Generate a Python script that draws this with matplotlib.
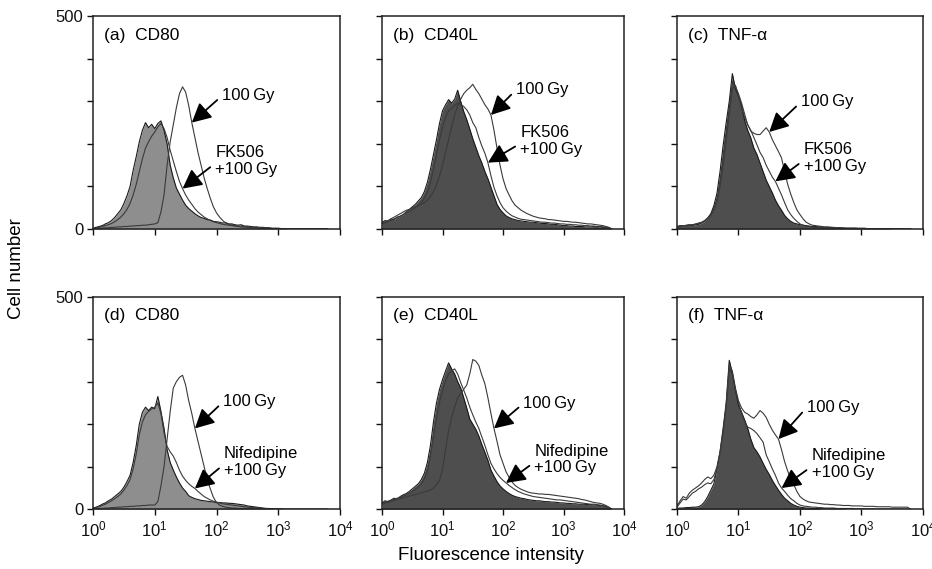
import matplotlib
matplotlib.use("Agg")
import matplotlib.pyplot as plt
import numpy as np

plt.rcParams['font.family'] = ['Liberation Sans', 'DejaVu Sans']
plt.rcParams['mathtext.fontset'] = 'custom'
plt.rcParams['mathtext.rm'] = 'Liberation Sans'
plt.rcParams['mathtext.it'] = 'Liberation Sans:italic'
plt.rcParams['mathtext.bf'] = 'Liberation Sans:bold'

# histogram channels, log10(fluorescence) from 0 to 3.8 in 0.05 steps (77 bins)
log_bins = np.round(np.arange(0, 3.801, 0.05), 2)

# cell counts per channel
# rows: 10^0-10^1, 10^1-10^2, 10^2-10^3, 10^3-10^3.8
a_ctrl = [2, 4, 6, 8, 12, 15, 20, 27, 36, 45, 60, 78, 100, 138, 170, 205, 232, 250, 238, 246,
          236, 248, 254, 232, 200, 150, 120, 96, 82, 68, 56, 48, 42, 36, 31, 27, 25, 22, 21, 18,
          17, 16, 14, 15, 12, 12, 10, 9, 10, 7, 7, 6, 5, 5, 4, 4, 3, 3, 2, 2,
          2, 1, 1, 0, 0, 0, 0, 0, 0, 0, 0, 0, 0, 0, 0, 0, 0]
a_100gy = [1, 1, 2, 2, 3, 3, 4, 4, 5, 5, 6, 6, 7, 7, 8, 8, 9, 9, 10, 11,
           12, 15, 40, 80, 150, 205, 245, 285, 318, 334, 322, 290, 250, 215, 180, 150, 120, 95, 72, 52,
           38, 28, 20, 14, 11, 9, 8, 7, 6, 5, 5, 4, 4, 3, 3, 2, 2, 2, 1, 1,
           1, 1, 0, 0, 0, 0, 0, 0, 0, 0, 0, 0, 0, 0, 0, 0, 0]
a_fk506 = [1, 2, 4, 6, 8, 10, 13, 17, 22, 28, 36, 46, 60, 80, 105, 135, 165, 190, 205, 218,
           228, 240, 248, 236, 215, 185, 160, 135, 112, 95, 80, 68, 58, 48, 40, 34, 28, 24, 20, 17,
           15, 13, 11, 10, 9, 8, 7, 6, 5, 5, 4, 4, 3, 3, 2, 2, 2, 1, 1, 1,
           0, 0, 0, 0, 0, 0, 0, 0, 0, 0, 0, 0, 0, 0, 0, 0, 0]

b_ctrl = [15, 20, 18, 24, 22, 28, 30, 34, 40, 46, 52, 58, 66, 74, 88, 110, 140, 175, 210, 248,
          278, 292, 304, 296, 305, 326, 300, 276, 257, 235, 212, 192, 172, 155, 135, 118, 98, 78, 58, 46,
          38, 31, 27, 24, 22, 20, 19, 18, 17, 16, 16, 15, 14, 13, 13, 12, 11, 11, 10, 9,
          8, 8, 7, 7, 6, 6, 6, 5, 5, 5, 6, 4, 5, 4, 3, 2, 0]
b_100gy = [12, 16, 20, 24, 28, 32, 36, 40, 44, 46, 50, 52, 55, 58, 62, 68, 76, 88, 104, 125,
           150, 180, 210, 240, 268, 290, 305, 318, 326, 332, 340, 328, 318, 305, 292, 282, 268, 232, 190, 150,
           118, 95, 80, 66, 56, 50, 44, 40, 36, 33, 30, 28, 26, 25, 24, 22, 22, 21, 20, 19,
           18, 18, 17, 16, 16, 15, 14, 13, 12, 12, 11, 10, 9, 8, 6, 4, 0]
b_fk506 = [12, 15, 18, 20, 24, 27, 30, 34, 38, 42, 46, 50, 56, 62, 72, 88, 110, 140, 175, 210,
           240, 262, 278, 284, 290, 296, 292, 288, 280, 268, 250, 238, 215, 195, 178, 156, 125, 98, 78, 62,
           50, 42, 36, 31, 28, 25, 23, 22, 21, 20, 19, 18, 17, 16, 16, 15, 14, 14, 13, 12,
           12, 11, 11, 10, 10, 9, 9, 8, 8, 7, 7, 6, 6, 5, 4, 3, 0]

c_ctrl = [6, 8, 7, 9, 10, 8, 10, 11, 14, 18, 26, 36, 55, 84, 135, 196, 250, 300, 365, 330,
          312, 290, 255, 232, 214, 190, 175, 155, 135, 115, 100, 85, 68, 55, 44, 32, 24, 18, 14, 12,
          10, 9, 8, 7, 6, 6, 5, 5, 4, 4, 4, 3, 3, 3, 2, 2, 2, 2, 2, 1,
          1, 1, 1, 1, 1, 1, 1, 1, 1, 1, 0, 0, 0, 0, 0, 0, 0]
c_100gy = [4, 6, 8, 7, 9, 10, 12, 14, 16, 20, 26, 34, 48, 70, 110, 165, 225, 285, 345, 335,
           318, 296, 270, 245, 230, 225, 222, 222, 230, 238, 228, 210, 196, 182, 167, 135, 105, 82, 62, 45,
           34, 24, 16, 12, 9, 8, 7, 6, 5, 5, 4, 4, 3, 3, 3, 2, 2, 2, 2, 2,
           2, 2, 1, 1, 1, 1, 1, 1, 1, 1, 1, 1, 1, 0, 0, 0, 0]
c_fk506 = [4, 5, 7, 8, 9, 10, 11, 13, 15, 18, 24, 32, 45, 65, 100, 150, 210, 270, 330, 338,
           312, 285, 262, 245, 232, 215, 198, 180, 168, 150, 136, 122, 112, 96, 80, 62, 45, 34, 25, 18,
           12, 9, 7, 6, 5, 4, 4, 3, 3, 3, 2, 2, 2, 2, 1, 1, 1, 1, 1, 1,
           1, 1, 1, 1, 0, 0, 0, 0, 0, 0, 0, 0, 0, 0, 0, 0, 0]

d_ctrl = [3, 5, 8, 12, 15, 20, 24, 30, 36, 42, 52, 65, 80, 110, 150, 200, 228, 240, 232, 240,
          236, 265, 230, 190, 140, 110, 92, 76, 62, 50, 42, 32, 28, 25, 23, 21, 20, 19, 18, 17,
          16, 16, 15, 15, 14, 14, 13, 12, 11, 10, 8, 7, 6, 5, 4, 3, 2, 2, 1, 1,
          1, 1, 0, 0, 0, 0, 0, 0, 0, 0, 0, 0, 0, 0, 0, 0, 0]
d_100gy = [1, 1, 2, 2, 3, 3, 4, 4, 5, 5, 6, 6, 7, 7, 8, 8, 9, 9, 10, 10,
           10, 18, 55, 100, 165, 230, 285, 300, 310, 315, 292, 255, 225, 190, 160, 130, 100, 70, 48, 28,
           16, 10, 7, 5, 4, 3, 3, 2, 2, 2, 1, 1, 1, 1, 0, 0, 0, 0, 0, 0,
           0, 0, 0, 0, 0, 0, 0, 0, 0, 0, 0, 0, 0, 0, 0, 0, 0]
d_nif = [2, 4, 6, 9, 12, 16, 20, 25, 30, 36, 45, 56, 70, 95, 130, 175, 205, 222, 230, 236,
         240, 250, 225, 180, 148, 135, 125, 110, 92, 78, 68, 60, 54, 49, 42, 36, 30, 26, 22, 19,
         17, 15, 13, 12, 11, 10, 9, 8, 7, 6, 5, 4, 4, 3, 3, 2, 2, 1, 1, 1,
         1, 0, 0, 0, 0, 0, 0, 0, 0, 0, 0, 0, 0, 0, 0, 0, 0]

e_ctrl = [15, 20, 18, 22, 26, 24, 30, 34, 37, 42, 48, 54, 60, 70, 85, 110, 150, 205, 250, 282,
          305, 325, 344, 330, 318, 300, 285, 262, 238, 212, 200, 188, 172, 152, 134, 115, 92, 78, 65, 55,
          48, 42, 37, 33, 30, 28, 26, 25, 23, 22, 21, 20, 20, 19, 18, 18, 17, 17, 16, 15,
          15, 14, 14, 13, 13, 12, 12, 12, 11, 11, 10, 10, 9, 8, 6, 4, 0]
e_100gy = [12, 15, 16, 19, 21, 23, 25, 27, 29, 31, 33, 35, 37, 39, 41, 43, 45, 50, 58, 68,
           95, 140, 185, 215, 240, 262, 272, 282, 292, 318, 352, 348, 338, 315, 295, 262, 225, 190, 160, 128,
           108, 88, 75, 64, 56, 51, 47, 44, 41, 39, 38, 37, 36, 36, 35, 35, 34, 33, 32, 31,
           30, 29, 28, 27, 26, 25, 23, 22, 20, 18, 16, 15, 14, 12, 9, 5, 0]
e_nif = [13, 17, 19, 21, 24, 26, 28, 31, 34, 38, 42, 47, 53, 60, 72, 92, 125, 170, 215, 252,
         280, 302, 318, 325, 330, 318, 298, 280, 262, 240, 222, 205, 190, 170, 150, 128, 108, 95, 84, 75,
         68, 62, 56, 51, 46, 42, 39, 36, 34, 32, 30, 29, 28, 27, 26, 25, 24, 23, 22, 22,
         21, 20, 19, 18, 17, 16, 15, 14, 13, 12, 12, 11, 10, 9, 7, 4, 0]

f_ctrl = [2, 3, 3, 4, 4, 5, 5, 6, 10, 18, 30, 45, 60, 95, 135, 190, 250, 350, 320, 280,
          245, 228, 210, 190, 165, 145, 135, 123, 108, 94, 82, 68, 56, 45, 35, 26, 20, 14, 10, 7,
          5, 4, 3, 3, 2, 2, 2, 1, 1, 1, 1, 1, 1, 1, 1, 0, 0, 0, 0, 0,
          0, 0, 0, 0, 0, 0, 0, 0, 0, 0, 0, 0, 0, 0, 0, 0, 0]
f_100gy = [8, 20, 30, 26, 38, 45, 50, 55, 62, 70, 76, 72, 80, 100, 135, 185, 245, 340, 325, 285,
           255, 238, 228, 224, 218, 214, 222, 232, 226, 216, 200, 186, 175, 165, 140, 112, 90, 72, 58, 42,
           30, 24, 20, 17, 16, 15, 14, 13, 12, 12, 11, 11, 10, 10, 9, 9, 9, 8, 8, 8,
           8, 7, 7, 7, 7, 6, 6, 6, 6, 6, 5, 5, 5, 5, 5, 5, 0]
f_nif = [5, 15, 24, 22, 30, 38, 42, 48, 52, 58, 62, 60, 70, 95, 130, 180, 240, 330, 318, 280,
         250, 225, 205, 193, 190, 185, 178, 168, 158, 128, 112, 95, 80, 62, 50, 42, 33, 25, 20, 14,
         10, 8, 7, 6, 5, 5, 4, 4, 3, 3, 3, 3, 2, 2, 2, 2, 2, 2, 1, 1,
         1, 1, 1, 1, 1, 0, 0, 0, 0, 0, 0, 0, 0, 0, 0, 0, 0]

panel_titles = ["(a)  CD80", "(b)  CD40L", "(c)  TNF-\u03b1",
                "(d)  CD80", "(e)  CD40L", "(f)  TNF-\u03b1"]
dose_label = "100\u2009Gy"
fk_label = "FK506\n+100\u2009Gy"
nif_label = "Nifedipine\n+100\u2009Gy"
y_ticks = [0, 100, 200, 300, 400, 500]
x_ticks = [1, 10, 100, 1000, 10000]

LIGHT = "#8e8e8e"
DARK = "#4e4e4e"

panels = [
    (a_ctrl, a_100gy, a_fk506, fk_label, LIGHT),
    (b_ctrl, b_100gy, b_fk506, fk_label, DARK),
    (c_ctrl, c_100gy, c_fk506, fk_label, DARK),
    (d_ctrl, d_100gy, d_nif, nif_label, LIGHT),
    (e_ctrl, e_100gy, e_nif, nif_label, DARK),
    (f_ctrl, f_100gy, f_nif, nif_label, DARK),
]

# arrow tips (log10 channel) and text offsets in points: (100 Gy arrow, treated arrow)
arrows = [
    ((1.60, 21.8, 19.4), (1.45, 23.5, 20.0)),
    ((1.80, 18.0, 18.0), (1.75, 23.3, 15.6)),
    ((1.50, 22.8, 21.6), (1.60, 20.4, 17.0)),
    ((1.65, 20.4, 19.2), (1.65, 20.9, 19.2)),
    ((1.85, 21.2, 18.0), (2.05, 20.4, 16.8)),
    ((1.65, 20.4, 22.8), (1.70, 21.6, 17.3)),
]

# axes boxes in figure fractions
col_left = [0.0998, 0.4099, 0.7264]
col_width = [0.2650, 0.2597, 0.2639]
row_bottom = [0.5975, 0.1049]
row_height = 0.374

fig = plt.figure(figsize=(9.32, 5.69), dpi=100)
x = 10 ** log_bins

for i, (ctrl, dose, treated, treated_label, fill_col) in enumerate(panels):
    row, col = divmod(i, 3)
    ax = fig.add_axes([col_left[col], row_bottom[row], col_width[col], row_height])

    ax.fill_between(x, 0, ctrl, color=fill_col, lw=0, zorder=1)
    ax.plot(x, ctrl, color="#1a1a1a", lw=0.8, zorder=2)
    ax.plot(x, dose, color="#3a3a3a", lw=0.8, zorder=2)
    ax.plot(x, treated, color="#3a3a3a", lw=0.8, zorder=2)

    ax.set_xscale("log")
    ax.set_xlim(1, 1e4)
    ax.set_ylim(0, 500)
    ax.set_xticks(x_ticks)
    ax.xaxis.set_minor_locator(matplotlib.ticker.NullLocator())
    ax.set_yticks(y_ticks)
    if col == 0:
        ax.set_yticklabels(["0", "", "", "", "", "500"])
    else:
        ax.set_yticklabels([])
    if row == 0:
        ax.tick_params(axis="x", labelbottom=False)
    ax.tick_params(direction="out", length=4, width=1, labelsize=12, pad=3, colors="#111111")
    for sp in ax.spines.values():
        sp.set_linewidth(1.1)
        sp.set_color("#222222")

    ax.text(0.045, 0.91, panel_titles[i], transform=ax.transAxes,
            fontsize=12.5, ha="left", va="center")

    for (lx, dx, dy), series, label in zip(arrows[i], (dose, treated), (dose_label, treated_label)):
        k = int(round(lx / 0.05))
        two_lines = "\n" in label
        ax.annotate(label, xy=(x[k], series[k]), xytext=(dx, dy), textcoords="offset points",
                    ha="left", va="center", fontsize=12, linespacing=1.15, zorder=4,
                    arrowprops=dict(arrowstyle="-|>,head_length=0.58,head_width=0.3",
                                    mutation_scale=20, lw=1.3, color="black",
                                    shrinkA=2, shrinkB=0,
                                    relpos=(0, 0.42 if two_lines else 0.5)))

fig.text(491 / 932, 1 - 555 / 569, "Fluorescence intensity", ha="center", va="center", fontsize=13.5)
fig.text(17 / 932, 1 - 269 / 569, "Cell number", ha="center", va="center", rotation=90, fontsize=13.5)

fig.savefig("out.png", dpi=100)
